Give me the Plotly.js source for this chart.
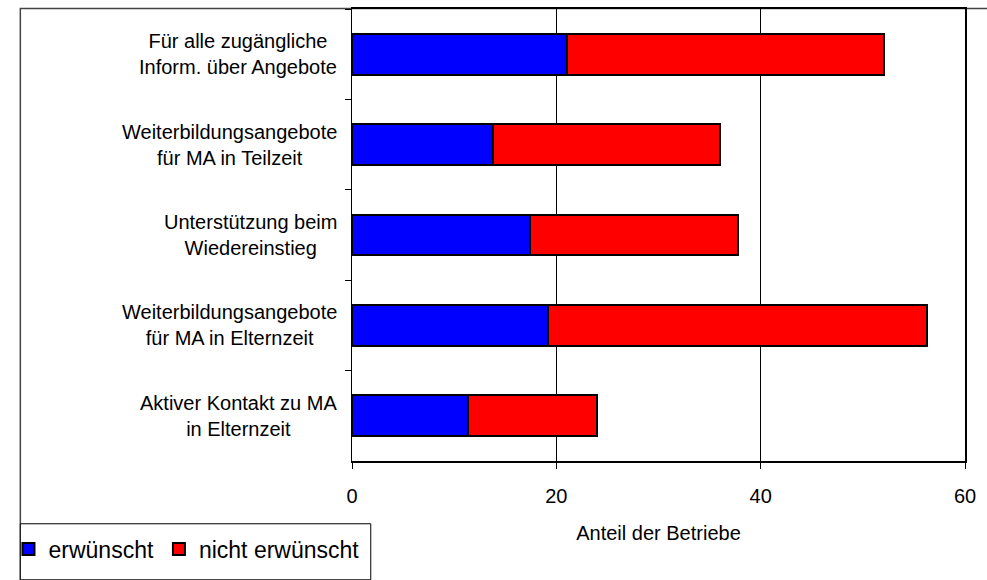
<!DOCTYPE html>
<html>
<head>
<meta charset="utf-8">
<script src="https://cdn.plot.ly/plotly-3.0.1.min.js"></script>
<style>
  html, body { margin: 0; padding: 0; background: #fff; }
  #chart { width: 987px; height: 580px; }
</style>
</head>
<body>
<div id="chart"></div>
<script>
// Categories, top to bottom
const categories = [
  "Für alle zugängliche<br>Inform. über Angebote",
  "Weiterbildungsangebote<br>für MA in Teilzeit",
  "Unterstützung beim<br>Wiedereinstieg",
  "Weiterbildungsangebote<br>für MA in Elternzeit",
  "Aktiver Kontakt zu MA<br>in Elternzeit"
];
const erwuenscht = [21.0, 13.8, 17.4, 19.2, 11.4];
const nichtErwuenscht = [31.1, 22.2, 20.4, 37.1, 12.6];
const seriesNames = ["erwünscht", "nicht erwünscht"];
const xTickVals = [0, 20, 40, 60];
const xTitle = "Anteil der Betriebe";

const FONT = "Liberation Sans, Arial, sans-serif";

const traces = [
  {
    type: "bar", orientation: "h", name: seriesNames[0],
    y: categories, x: erwuenscht,
    marker: { color: "#0000FF", line: { color: "#000", width: 2 } },
    hoverinfo: "x"
  },
  {
    type: "bar", orientation: "h", name: seriesNames[1],
    y: categories, x: nichtErwuenscht,
    marker: { color: "#FF0000", line: { color: "#000", width: 2 } },
    hoverinfo: "x"
  }
];

const annotations = categories.map(c => ({
  xref: "paper", yref: "y", x: -0.022, y: c,
  xanchor: "right", yanchor: "middle", align: "center",
  text: c, showarrow: false,
  font: { family: FONT, size: 20, color: "#000" }
}));

// pixel helpers for paper coordinates (plot area 344..965 x 9..477)
const px = v => (v - 344) / 621;
const py = v => (477 - v) / 468;

const layout = {
  width: 987, height: 580,
  margin: { l: 344, r: 22, t: 9, b: 103, pad: 0 },
  paper_bgcolor: "#fff", plot_bgcolor: "#fff",
  font: { family: FONT, size: 20, color: "#000" },
  barmode: "stack",
  bargap: 0.547,
  showlegend: true,
  legend: {
    orientation: "h",
    x: px(-4), xanchor: "left",
    y: py(546), yanchor: "top",
    bgcolor: "rgba(0,0,0,0)", borderwidth: 0,
    font: { family: FONT, size: 23, color: "#000" },
    itemwidth: 30, traceorder: "normal"
  },
  xaxis: {
    range: [0, 60], tickvals: xTickVals, ticktext: xTickVals.map(String),
    showgrid: true, gridcolor: "#000", gridwidth: 1,
    zeroline: false,
    showline: true, linecolor: "#000", linewidth: 2, mirror: true,
    ticks: "outside", ticklen: 6, tickcolor: "#000", tickwidth: 1,
    ticklabelstandoff: 10,
    tickfont: { family: FONT, size: 20, color: "#000" },
    title: { text: xTitle, font: { family: FONT, size: 20, color: "#000" }, standoff: 20 },
    fixedrange: true
  },
  yaxis: {
    type: "category", autorange: "reversed",
    showticklabels: false,
    showgrid: false, zeroline: false,
    showline: true, linecolor: "#000", linewidth: 1.5, mirror: true,
    ticks: "outside", tickson: "boundaries", ticklen: 6, tickcolor: "#000", tickwidth: 1,
    fixedrange: true
  },
  annotations: annotations,
  shapes: [
    {
      type: "rect", xref: "paper", yref: "paper", layer: "below",
      x0: px(8), x1: px(1000), y0: py(620), y1: py(8.5),
      line: { color: "#444", width: 1.5 }, fillcolor: "rgba(0,0,0,0)"
    },
    {
      type: "rect", xref: "paper", yref: "paper", layer: "below",
      x0: px(8), x1: px(363), y0: py(600), y1: py(542),
      line: { color: "#000", width: 1 }, fillcolor: "#fff"
    }
  ]
};

Plotly.newPlot("chart", traces, layout, { staticPlot: true, displayModeBar: false });
</script>
</body>
</html>
